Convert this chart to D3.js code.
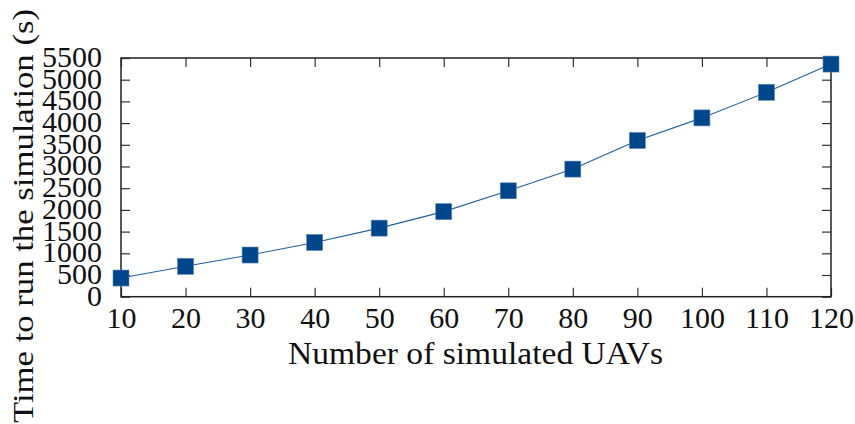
<!DOCTYPE html>
<html>
<head>
<meta charset="utf-8">
<script src="https://cdn.jsdelivr.net/npm/d3@7"></script>
<style>
  body { margin: 0; background: #fff; }
  text { font-family: "Liberation Serif", "DejaVu Serif", serif; fill: #111; }
</style>
</head>
<body>
<script>
// number of UAVs vs. run time (s)
const uavCounts = [10, 20, 30, 40, 50, 60, 70, 80, 90, 100, 110, 120];
const runTimes = [430, 700, 960, 1250, 1580, 1960, 2440, 2940, 3600, 4120, 4710, 5360];
const yTicks = [0, 500, 1000, 1500, 2000, 2500, 3000, 3500, 4000, 4500, 5000, 5500];

let W = 855, H = 424;
let plotL = 121, plotR = 831, plotT = 58, plotB = 296.7;

let svg = d3.select("body").append("svg")
  .attr("width", W)
  .attr("height", H);

let x = d3.scaleLinear().domain([10, 120]).range([plotL, plotR]);
let y = d3.scaleLinear().domain([0, 5500]).range([plotB, plotT]);

let tickLen = 9;

// bottom axis with labels, ticks inward
let xAxis = svg.append("g")
  .attr("transform", "translate(0," + plotB + ")")
  .call(d3.axisBottom(x).tickValues(uavCounts).tickSize(-tickLen).tickPadding(10).tickFormat(d3.format("d")));
xAxis.select(".domain").remove();
xAxis.selectAll("text").style("font-size", "30px").attr("dy", "0.71em");

// top ticks
let xTop = svg.append("g")
  .attr("transform", "translate(0," + plotT + ")")
  .call(d3.axisTop(x).tickValues(uavCounts).tickSize(-tickLen).tickFormat(""));
xTop.select(".domain").remove();

// left axis
let yAxis = svg.append("g")
  .attr("transform", "translate(" + plotL + ",0)")
  .call(d3.axisLeft(y).tickValues(yTicks).tickSize(-tickLen).tickPadding(19).tickFormat(d3.format("d")));
yAxis.select(".domain").remove();
yAxis.selectAll("text").style("font-size", "30px").attr("dy", "0.28em");

// right ticks
let yRight = svg.append("g")
  .attr("transform", "translate(" + plotR + ",0)")
  .call(d3.axisRight(y).tickValues(yTicks).tickSize(-tickLen).tickFormat(""));
yRight.select(".domain").remove();

svg.selectAll(".tick line").attr("stroke", "#333").attr("stroke-width", 1.2);

// frame
svg.append("rect")
  .attr("x", plotL).attr("y", plotT)
  .attr("width", plotR - plotL).attr("height", plotB - plotT)
  .attr("fill", "none").attr("stroke", "#222").attr("stroke-width", 1.5);

// line
let line = d3.line().x((d, i) => x(uavCounts[i])).y(d => y(d));
svg.append("path")
  .datum(runTimes)
  .attr("d", line)
  .attr("fill", "none")
  .attr("stroke", "#2060a0")
  .attr("stroke-width", 1.1);

// square markers
let ms = 16;
svg.selectAll(".marker")
  .data(runTimes)
  .enter().append("rect")
  .attr("class", "marker")
  .attr("x", (d, i) => x(uavCounts[i]) - ms / 2)
  .attr("y", d => y(d) - ms / 2)
  .attr("width", ms).attr("height", ms)
  .attr("fill", "#00468b")
  .attr("stroke", "#5a85b5")
  .attr("stroke-width", 0.6);

// axis labels (stretched a bit, the original font is wider)
svg.append("text")
  .attr("x", 475.5)
  .attr("y", 364)
  .attr("text-anchor", "middle")
  .attr("textLength", 375)
  .attr("lengthAdjust", "spacingAndGlyphs")
  .style("font-size", "31px")
  .text("Number of simulated UAVs");

svg.append("text")
  .attr("transform", "translate(33,216) rotate(-90)")
  .attr("text-anchor", "middle")
  .attr("textLength", 414)
  .attr("lengthAdjust", "spacingAndGlyphs")
  .style("font-size", "30px")
  .text("Time to run the simulation (s)");
</script>
</body>
</html>
